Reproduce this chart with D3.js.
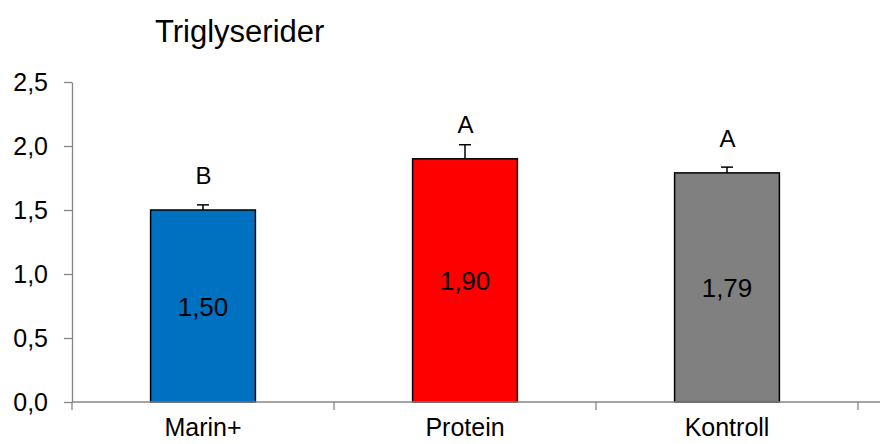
<!DOCTYPE html>
<html><head><meta charset="utf-8">
<script src="https://cdn.jsdelivr.net/npm/d3@7"></script>
<style>body{margin:0;background:#fff}svg{display:block}text{font-family:"Liberation Sans",Arial,sans-serif}</style>
</head><body><svg id="c" width="880" height="444"></svg>
<script>
const categories = ["Marin+", "Protein", "Kontroll"];
const values = [1.50, 1.90, 1.79];
const errors = [0.04, 0.11, 0.045];
const letters = ["B", "A", "A"];
const colors = ["#0070C0", "#FF0000", "#808080"];
const yTicks = [0, 0.5, 1.0, 1.5, 2.0, 2.5];
const title = "Triglyserider";

const svg = d3.select("#c");
const FF = '"Liberation Sans",Arial,sans-serif';
const x0 = 72, x1 = 858, yTop = 82, yBot = 402;
const x = d3.scaleBand().domain(categories).range([x0, x1]).paddingInner(0).paddingOuter(0);
const y = d3.scaleLinear().domain([0, 2.5]).range([yBot, yTop]);
const fmt = v => d3.format(".1f")(v).replace(".", ",");
const fmt2 = v => d3.format(".2f")(v).replace(".", ",");
const axisCol = "#868686";

// y axis
const ya = svg.append("g").attr("transform", `translate(${x0},0)`)
  .call(d3.axisLeft(y).tickValues(yTicks).tickFormat(fmt).tickSize(8).tickSizeOuter(0));
ya.attr("font-size", 25).attr("font-family", FF);
ya.select(".domain").attr("stroke", axisCol).attr("stroke-width", 1.3);
ya.selectAll(".tick line").attr("stroke", axisCol).attr("stroke-width", 1.3);
ya.selectAll(".tick text").attr("fill", "#000").attr("x", -24).attr("dy", "0.35em");

// bars
const bw = x.bandwidth() * 0.4;
const g = svg.append("g");
categories.forEach((c, i) => {
  const cx = x(c) + x.bandwidth() / 2;
  g.append("rect").attr("x", cx - bw / 2).attr("y", y(values[i]))
    .attr("width", bw).attr("height", y(0) - y(values[i]))
    .attr("fill", colors[i]).attr("stroke", "#000").attr("stroke-width", 1.5);
  // error bar
  g.append("line").attr("x1", cx).attr("x2", cx).attr("y1", y(values[i])).attr("y2", y(values[i] + errors[i]))
    .attr("stroke", "#000").attr("stroke-width", 1.5);
  g.append("line").attr("x1", cx - 6).attr("x2", cx + 6).attr("y1", y(values[i] + errors[i])).attr("y2", y(values[i] + errors[i]))
    .attr("stroke", "#000").attr("stroke-width", 1.5);
  // letter
  g.append("text").attr("x", cx + 0.5).attr("y", y(values[i]) - 26)
    .attr("text-anchor", "middle").attr("font-size", 24).text(letters[i]);
  // value
  g.append("text").attr("x", cx).attr("y", (y(values[i]) + y(0)) / 2 + 10)
    .attr("text-anchor", "middle").attr("font-size", 26).text(fmt2(values[i]));
});

// x axis
const xa = svg.append("g").attr("transform", `translate(0,${yBot})`)
  .call(d3.axisBottom(x).tickSize(0).tickSizeOuter(0));
xa.attr("font-size", 25).attr("font-family", FF);
xa.select(".domain").remove();
xa.append("line").attr("x1", x0).attr("x2", 880).attr("stroke", axisCol).attr("stroke-width", 1.3);
[x0, ...categories.map(c => x(c) + x.bandwidth())].forEach(t => {
  xa.append("line").attr("x1", t).attr("x2", t).attr("y1", 0).attr("y2", 8).attr("stroke", axisCol).attr("stroke-width", 1.3);
});
xa.selectAll(".tick text").attr("fill", "#000").attr("y", 34).attr("dy", 0);

svg.append("text").attr("x", 155).attr("y", 42).attr("font-size", 31).text(title);
</script></body></html>
